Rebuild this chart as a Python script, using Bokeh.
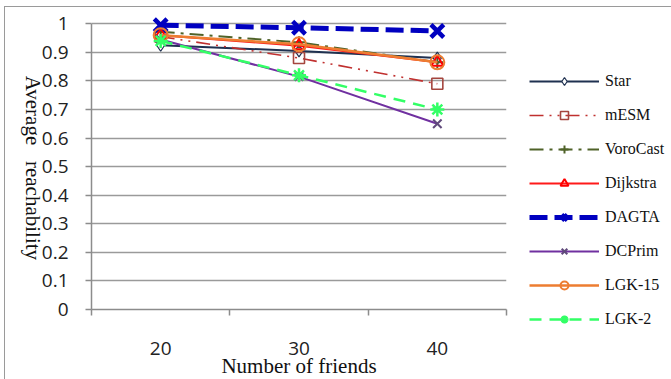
import json
import math
from bokeh.plotting import figure
from bokeh.models import (Range1d, FixedTicker, Legend, LegendItem, CustomJSTickFormatter,
                          LinearAxis)
from bokeh.embed import file_html
from bokeh.resources import INLINE

# ---- data ----
friends = [20, 30, 40]
x_labels = ["20", "30", "40"]
series_names = ["Star", "mESM", "VoroCast", "Dijkstra", "DAGTA", "DCPrim", "LGK-15", "LGK-2"]
star = [0.925, 0.905, 0.88]
mesm = [0.955, 0.88, 0.79]
vorocast = [0.972, 0.935, 0.865]
dijkstra = [0.96, 0.923, 0.865]
dagta = [0.995, 0.986, 0.975]
dcprim = [0.945, 0.815, 0.65]
lgk15 = [0.96, 0.928, 0.865]
lgk2 = [0.94, 0.82, 0.70]
y_ticks = [0, 0.1, 0.2, 0.3, 0.4, 0.5, 0.6, 0.7, 0.8, 0.9, 1.0]
x_title = "Number of friends"
y_title = "Average\u00a0\u00a0\u00a0reachability"

values = [star, mesm, vorocast, dijkstra, dagta, dcprim, lgk15, lgk2]

# ---- styles ----
styles = [
    dict(lc="#1F3150", lw=2, dash="solid", m="diamond", mc="#1F3150", ms=12, mlw=1.2, fill="white"),
    dict(lc="#C0302F", lw=1.6, dash="14 6 2 6 2 6", m="square", mc="#A5463F", ms=11, mlw=1.6, fill=None),
    dict(lc="#4F6228", lw=2, dash="14 6 3 6", m="cross", mc="#4F6228", ms=12, mlw=2, fill=None),
    dict(lc="#FF1A1A", lw=2, dash="solid", m="triangle", mc="#FF0000", ms=12, mlw=2, fill=None),
    dict(lc="#0000C0", lw=5, dash="18 7", m="x", mc="#0000C0", ms=18, mlw=4.5, fill=None),
    dict(lc="#7030A0", lw=2, dash="solid", m="x", mc="#604A7B", ms=12, mlw=2, fill=None),
    dict(lc="#ED7D31", lw=2.5, dash="solid", m="circle", mc="#ED7D31", ms=14, mlw=2, fill=None),
    dict(lc="#33FF66", lw=2.5, dash="12 8", m="asterisk", mc="#33FF66", ms=14, mlw=2.5, fill=None),
]

p = figure(frame_width=415, frame_height=300, output_backend="svg", toolbar_location=None,
           x_range=Range1d(15, 45), y_range=Range1d(0, 1.05),
           min_border_left=80, min_border_right=170, min_border_top=2, min_border_bottom=70,
           margin=(6, 0, 0, 4))
p.styles = {"border-top": "1.5px solid #9a9a9a", "border-left": "1.5px solid #9a9a9a"}
p.outline_line_color = None
p.background_fill_color = "white"
p.border_fill_color = "white"

# x axis
xa = p.xaxis[0]
xa.ticker = FixedTicker(ticks=friends, minor_ticks=[15, 25, 35, 45])
xa.major_label_overrides = {f: l for f, l in zip(friends, x_labels)}
xa.major_tick_out = 0
xa.major_tick_in = 0
xa.minor_tick_out = 6
xa.minor_tick_in = 0
xa.minor_tick_line_color = "#8c8c8c"
xa.minor_tick_line_width = 1.5
xa.axis_line_color = "#8c8c8c"
xa.axis_line_width = 1.5
xa.bounds = (15, 45)
xa.major_label_standoff = 26
xa.major_label_text_font = "Open Sans"
xa.major_label_text_font_size = "19px"
xa.major_label_text_color = "#222222"
xa.axis_label = x_title
xa.axis_label_standoff = -4
xa.axis_label_text_font = "Liberation Serif"
xa.axis_label_text_font_style = "normal"
xa.axis_label_text_font_size = "21px"
xa.axis_label_text_color = "#111111"

# y axis
ya = p.yaxis[0]
ya.ticker = FixedTicker(ticks=y_ticks)
ya.formatter = CustomJSTickFormatter(code="return (Math.round(tick*10)/10).toString();")
ya.bounds = (0, 1)
ya.major_tick_out = 6
ya.major_tick_in = 0
ya.minor_tick_line_color = None
ya.major_tick_line_color = "#8c8c8c"
ya.major_tick_line_width = 1.5
ya.axis_line_color = "#8c8c8c"
ya.axis_line_width = 1.5
ya.major_label_standoff = 17
ya.major_label_text_font = "Open Sans"
ya.major_label_text_font_size = "19px"
ya.major_label_text_color = "#222222"

# y title, reading top-to-bottom, carried by an extra (invisible) left axis
title_axis = LinearAxis(ticker=FixedTicker(ticks=[0.173]),
                        formatter=CustomJSTickFormatter(code="return " + json.dumps(y_title) + ";"),
                        major_label_orientation=-math.pi / 2,
                        major_tick_out=0, major_tick_in=0, minor_tick_line_color=None,
                        major_tick_line_color=None, axis_line_color=None,
                        major_label_standoff=6,
                        major_label_text_font="Liberation Serif",
                        major_label_text_font_size="21px",
                        major_label_text_color="#111111")
p.add_layout(title_axis, "left")

p.xgrid.grid_line_color = None
p.ygrid.ticker = FixedTicker(ticks=y_ticks)
p.ygrid.grid_line_color = "#9a9a9a"
p.ygrid.grid_line_width = 1.5

items = []
for name, vals, s in zip(series_names, values, styles):
    lr = p.line(friends, vals, line_color=s["lc"], line_width=s["lw"], line_dash=s["dash"])
    sr = p.scatter(friends, vals, marker=s["m"], size=s["ms"], line_color=s["mc"],
                   line_width=s["mlw"], fill_color=s["fill"])
    items.append(LegendItem(label=name, renderers=[lr, sr]))

legend = Legend(items=items, location=(23, -20), glyph_width=70, glyph_height=20,
                label_height=20, spacing=14, padding=0, margin=0, label_standoff=6,
                label_text_font="Liberation Serif", label_text_font_size="16px",
                label_text_color="#111111",
                border_line_color=None, background_fill_alpha=0)
p.add_layout(legend, "right")

open("out.html", "w").write(file_html(p, INLINE))
